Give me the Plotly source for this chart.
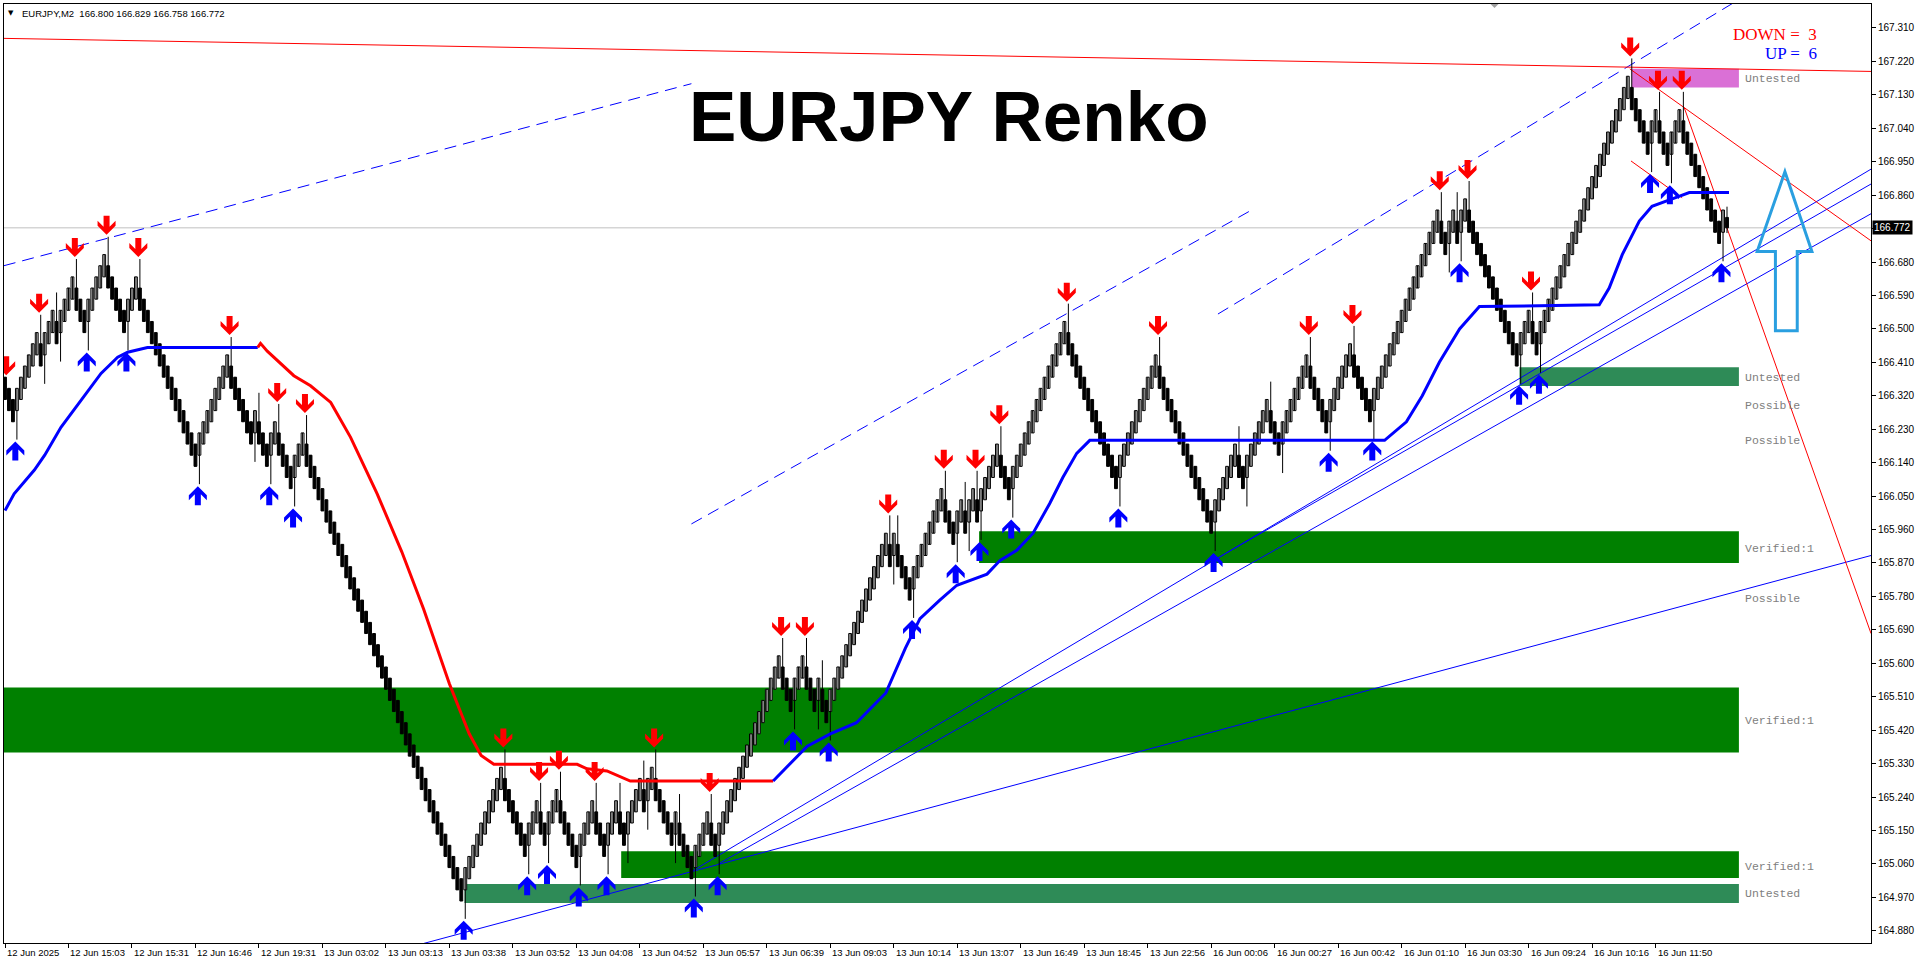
import plotly.graph_objects as go

# ---------------- data ----------------
BRICK = 0.03
START_PRICE = 166.34
# renko run lengths (+ up bricks, - down bricks)
RUNS = [-3, 6, -1, 3, -1, 4, -3, 5, -5, 3, -15, 8, -6, 1, -3, 2, -4, 3, -40,
        10, -6, 3, -2, 3, -5, 4, -3, 3, -2, 4, -1, 2, -5, 1, -4, 4, -2, 16,
        -3, 3, -3, 1, -2, 15, -1, 1, -4, 8, -3, 2, -1, 2, -1, 5, -3, 14, -13,
        10, -14, 6, -2, 6, -3, 7, -5, 6, -5, 17, -2, 2, -1, 2, -13, 3, -2, 23,
        -5, 2, -3, 3, -10, 1]
LIVE_OHLC = (166.800, 166.829, 166.758, 166.772)
WICK_BRICKS = 1.6

DOWN_ARROW_PIVOTS = [0, 8, 17, 25, 33, 56, 68, 75, 125, 134, 139, 148, 163, 177,
                     195, 201, 222, 236, 244, 250, 267, 290, 328, 339, 361, 368,
                     384, 409, 416, 422]
UP_ARROW_PIVOTS = [2, 20, 30, 48, 66, 72, 115, 131, 136, 144, 151, 173, 179, 198,
                   207, 228, 239, 245, 253, 280, 304, 333, 344, 366, 381, 386,
                   414, 419, 432]

MA_BLUE1_X = [0, 2.3, 7.4, 10, 14.1, 19.1, 24.2, 28.4, 30.9, 35.9, 63.7]
MA_BLUE1_Y = [166.011, 166.056, 166.12, 166.16, 166.235, 166.307, 166.38, 166.424,
              166.437, 166.45, 166.45]
MA_RED_X = [63.7, 64.4, 66.1, 72.8, 77, 82.1, 87.1, 93.8, 100, 105.5, 112, 117, 120,
            123.2, 144.2, 146.7, 151.7, 157.6, 193.6]
MA_RED_Y = [166.45, 166.461, 166.44, 166.374, 166.347, 166.302, 166.208, 166.056,
            165.90, 165.746, 165.545, 165.41, 165.352, 165.328, 165.328, 165.316,
            165.31, 165.283, 165.283]
MA_BLUE2_X = [193.6, 198, 202.2, 208, 214.6, 222, 226.9, 230.6, 235.6, 239.9, 247.5,
              250.8, 255, 259.1, 263.3, 266.6, 270.1, 273.4, 347.7, 353.2, 357.2,
              361.5, 366.6, 371.6, 401.8, 404.3, 407.6, 411.9, 415.1, 420.2, 424.5,
              434.5]
MA_BLUE2_Y = [165.283, 165.33, 165.377, 165.41, 165.44, 165.52, 165.64, 165.72,
              165.77, 165.81, 165.84, 165.877, 165.904, 165.95, 166.03, 166.10,
              166.165, 166.20, 166.20, 166.25, 166.32, 166.41, 166.50, 166.56,
              166.565, 166.61, 166.70, 166.79, 166.83, 166.85, 166.867, 166.867]

ZONE_X0 = [-1, 245.5, 155.3, 115.8, 381.7, 410.0]
ZONE_X1 = [437, 437, 437, 437, 437, 437]
ZONE_LO = [165.36, 165.87, 165.022, 164.955, 166.346, 167.15]
ZONE_HI = [165.535, 165.955, 165.094, 165.006, 166.397, 167.20]
ZONE_COLORS = ["#008000", "#008000", "#008000", "#2E8B57", "#2E8B57", "#DA70D6"]

ZONE_TEXTS = ["Untested", "Untested", "Possible", "Possible", "Verified:1", "Possible",
              "Verified:1", "Verified:1", "Untested"]
ZONE_TEXT_Y = [167.173, 166.37, 166.294, 166.20, 165.909, 165.775, 165.447,
               165.054, 164.979]

# trend lines: x0, y0, x1, y1
BLUE_SOLID = [(173.1, 165.04, 470.3, 166.93),
              (179.8, 165.06, 470.3, 166.81),
              (304.6, 165.877, 470.3, 166.89),
              (100.0, 164.83, 470.3, 165.89)]
BLUE_DASHED = [(-0.3, 166.67, 173.0, 167.16),
               (173.0, 165.975, 314.7, 166.823),
               (305.7, 166.54, 436.0, 167.38)]
RED_SOLID = [(-0.3, 167.282, 470.3, 167.193),
             (409.5, 167.20, 470.3, 166.737),
             (423.2, 167.096, 470.3, 165.68),
             (409.8, 166.952, 422.7, 166.853)]

BIG_ARROW_X = [448.6, 455.4, 451.7, 451.7, 446.2, 446.2, 441.6]
BIG_ARROW_Y = [166.923, 166.708, 166.708, 166.495, 166.495, 166.708, 166.708]

Y_TICKS = [164.880 + 0.09 * k for k in range(28)]
TIME_LABELS = ["12 Jun 2025", "12 Jun 15:03", "12 Jun 15:31", "12 Jun 16:46",
               "12 Jun 19:31", "13 Jun 03:02", "13 Jun 03:13", "13 Jun 03:38",
               "13 Jun 03:52", "13 Jun 04:08", "13 Jun 04:52", "13 Jun 05:57",
               "13 Jun 06:39", "13 Jun 09:03", "13 Jun 10:14", "13 Jun 13:07",
               "13 Jun 16:49", "13 Jun 18:45", "13 Jun 22:56", "16 Jun 00:06",
               "16 Jun 00:27", "16 Jun 00:42", "16 Jun 01:10", "16 Jun 03:30",
               "16 Jun 09:24", "16 Jun 10:16", "16 Jun 11:50"]
BARS_PER_LABEL = 16
HEADER = "EURJPY,M2  166.800 166.829 166.758 166.772"
TITLE = "EURJPY Renko"
COUNT_DOWN = "DOWN =  3"
COUNT_UP = "UP =  6"
LAST_PRICE = 166.772

# ---------------- build renko bars ----------------
opens, closes, highs, lows, dirs = [], [], [], [], []
c = START_PRICE
for k, r in enumerate(RUNS):
    d = 1 if r > 0 else -1
    for j in range(abs(r)):
        prev = c
        rev = (k > 0 and j == 0)
        c = c + d * (3 if rev else 1) * BRICK
        if d > 0:
            lo_b, hi_b = c - 2 * BRICK, c
        else:
            lo_b, hi_b = c, c + 2 * BRICK
        hi, lo = hi_b, lo_b
        if rev:
            if d > 0:
                lo = prev - WICK_BRICKS * BRICK
            else:
                hi = prev + WICK_BRICKS * BRICK
        closes.append(c)
        dirs.append(d)
        highs.append(hi)
        lows.append(lo)
        opens.append(lo_b if d > 0 else hi_b)
o, h, l, cl = LIVE_OHLC
opens.append(o); highs.append(h); lows.append(l); closes.append(cl)
dirs.append(1 if cl >= o else -1)
N = len(closes)

fig = go.Figure()

# wicks
wx, wy = [], []
for i in range(N):
    wx += [i, i, None]
    wy += [lows[i], highs[i], None]
fig.add_trace(go.Scatter(x=wx, y=wy, mode="lines", line=dict(color="black", width=1),
                         hoverinfo="skip", showlegend=False))

for d, col in [(1, "white"), (-1, "black")]:
    bx = [i for i in range(N) if dirs[i] == d]
    base = [min(opens[i], closes[i]) for i in bx]
    hgt = [abs(closes[i] - opens[i]) for i in bx]
    fig.add_trace(go.Bar(x=bx, y=hgt, base=base, width=0.72,
                         marker=dict(color=col, line=dict(color="black", width=1)),
                         hoverinfo="skip", showlegend=False))

# moving line
fig.add_trace(go.Scatter(x=MA_BLUE1_X, y=MA_BLUE1_Y, mode="lines",
                         line=dict(color="#0000FF", width=3), showlegend=False))
fig.add_trace(go.Scatter(x=MA_RED_X, y=MA_RED_Y, mode="lines",
                         line=dict(color="#FF0000", width=3), showlegend=False))
fig.add_trace(go.Scatter(x=MA_BLUE2_X, y=MA_BLUE2_Y, mode="lines",
                         line=dict(color="#0000FF", width=3), showlegend=False))

shapes = []
# zones
for x0, x1, y0, y1, colr in zip(ZONE_X0, ZONE_X1, ZONE_LO, ZONE_HI, ZONE_COLORS):
    shapes.append(dict(type="rect", xref="x", yref="y", x0=x0, x1=x1, y0=y0, y1=y1,
                       fillcolor=colr, line=dict(width=0), layer="below"))
# last price line
shapes.append(dict(type="line", xref="paper", yref="y", x0=0, x1=1, y0=LAST_PRICE,
                   y1=LAST_PRICE, line=dict(color="#C0C0C0", width=1), layer="below"))
for (x0, y0, x1, y1) in BLUE_SOLID:
    shapes.append(dict(type="line", xref="x", yref="y", x0=x0, y0=y0, x1=x1, y1=y1,
                       line=dict(color="#0000FF", width=1), layer="below"))
for (x0, y0, x1, y1) in BLUE_DASHED:
    shapes.append(dict(type="line", xref="x", yref="y", x0=x0, y0=y0, x1=x1, y1=y1,
                       line=dict(color="#0000FF", width=1, dash="12px,7px"), layer="below"))
for (x0, y0, x1, y1) in RED_SOLID:
    shapes.append(dict(type="line", xref="x", yref="y", x0=x0, y0=y0, x1=x1, y1=y1,
                       line=dict(color="#FF0000", width=1), layer="below"))

# big hollow arrow
p = "M " + " L ".join(f"{x},{y}" for x, y in zip(BIG_ARROW_X, BIG_ARROW_Y)) + " Z"
shapes.append(dict(type="path", xref="x", yref="y", path=p,
                   line=dict(color="#2A9FE0", width=3), fillcolor="rgba(0,0,0,0)"))

# small arrows (pixel sized)
DOWN_PATH = "M 0,2 L 9,11 L 9,16 L 3,10 L 3,21 L -3,21 L -3,10 L -9,16 L -9,11 Z"
UP_PATH = "M 0,-2 L 9,-11 L 9,-16 L 3,-10 L 3,-21 L -3,-21 L -3,-10 L -9,-16 L -9,-11 Z"
for pv in DOWN_ARROW_PIVOTS:
    rng = [i for i in (pv, pv + 1) if i < N]
    ytop = max(highs[i] for i in rng)
    xa = pv + 0.6 if pv > 0 else 0.3
    shapes.append(dict(type="path", xref="x", yref="y", xsizemode="pixel",
                       ysizemode="pixel", xanchor=xa, yanchor=ytop, path=DOWN_PATH,
                       fillcolor="#FF0000", line=dict(width=0)))
for pv in UP_ARROW_PIVOTS:
    rng = [i for i in (pv, pv + 1) if i < N]
    ybot = min(lows[i] for i in rng)
    shapes.append(dict(type="path", xref="x", yref="y", xsizemode="pixel",
                       ysizemode="pixel", xanchor=pv + 0.6, yanchor=ybot, path=UP_PATH,
                       fillcolor="#0000FF", line=dict(width=0)))
# tiny shift marker at top
shapes.append(dict(type="path", xref="x", yref="paper", xsizemode="pixel",
                   ysizemode="pixel", xanchor=375.4, yanchor=1, path="M -4,0 L 4,0 L 0,-4 Z",
                   fillcolor="#A0A0A0", line=dict(width=0)))

annotations = []
for x, t in zip(range(0, BARS_PER_LABEL * len(TIME_LABELS), BARS_PER_LABEL), TIME_LABELS):
    annotations.append(dict(x=x, y=0, xref="x", yref="paper", text=t, showarrow=False,
                            xanchor="left", yanchor="top", xshift=0, yshift=-2,
                            font=dict(family="Liberation Sans, Arial", size=9.5, color="black")))
for t, y in zip(ZONE_TEXTS, ZONE_TEXT_Y):
    annotations.append(dict(x=438.1, y=y, xref="x", yref="y", text=t, showarrow=False,
                            xanchor="left", yanchor="middle",
                            font=dict(family="Liberation Mono, Courier New", size=11.5,
                                      color="#808080")))
annotations.append(dict(x=0.5062, y=0.8798, xref="paper", yref="paper",
                        text="<b>" + TITLE + "</b>", showarrow=False,
                        xanchor="center", yanchor="middle",
                        font=dict(family="Liberation Sans, Arial", size=71, color="black")))
annotations.append(dict(x=0.9722, y=0.968, xref="paper", yref="paper", text=COUNT_DOWN,
                        showarrow=False, xanchor="right", yanchor="middle",
                        font=dict(family="Liberation Serif, Times New Roman", size=17,
                                  color="#FF0000")))
annotations.append(dict(x=0.9722, y=0.9468, xref="paper", yref="paper", text=COUNT_UP,
                        showarrow=False, xanchor="right", yanchor="middle",
                        font=dict(family="Liberation Serif, Times New Roman", size=17,
                                  color="#0000FF")))
annotations.append(dict(x=0.0087, y=0.9904, xref="paper", yref="paper", text=HEADER,
                        showarrow=False, xanchor="left", yanchor="middle",
                        font=dict(family="Liberation Sans, Arial", size=9.5, color="black")))
annotations.append(dict(x=0.0036, y=0.9904, xref="paper", yref="paper", text="▼",
                        showarrow=False, xanchor="center", yanchor="middle",
                        font=dict(family="DejaVu Sans", size=7, color="black")))
annotations.append(dict(x=1, y=LAST_PRICE, xref="paper", yref="y", text="166.772",
                        showarrow=False, xanchor="left", yanchor="middle", xshift=1,
                        bgcolor="black", borderpad=1,
                        font=dict(family="Liberation Sans, Arial", size=10, color="white")))

# the tick next to the last-price label is hidden (as in the terminal)
tick_text = [("" if abs(v - LAST_PRICE) < 0.03 else f"{v:.3f}") for v in Y_TICKS]

fig.update_layout(
    width=1918, height=965,
    margin=dict(l=3, r=46, t=3, b=22),
    paper_bgcolor="white", plot_bgcolor="white",
    barmode="overlay", showlegend=False,
    shapes=shapes, annotations=annotations,
    xaxis=dict(range=[-0.252, 470.29], showgrid=False, zeroline=False,
               tickvals=list(range(0, BARS_PER_LABEL * len(TIME_LABELS), BARS_PER_LABEL)),
               showticklabels=False, ticks="outside", ticklen=4, tickcolor="black",
               showline=True, linecolor="black", linewidth=1, mirror=True,
               fixedrange=True),
    yaxis=dict(range=[164.847, 167.3745], side="right", showgrid=False, zeroline=False,
               tickvals=Y_TICKS, ticktext=tick_text,
               ticks="outside", ticklen=4, tickcolor="black",
               tickfont=dict(family="Liberation Sans, Arial", size=10, color="black"),
               showline=True, linecolor="black", linewidth=1, mirror=True,
               fixedrange=True),
)

fig.write_html("out.html", config={"displayModeBar": False},
               post_script="document.body.style.margin='0';document.body.style.overflow='hidden';")
